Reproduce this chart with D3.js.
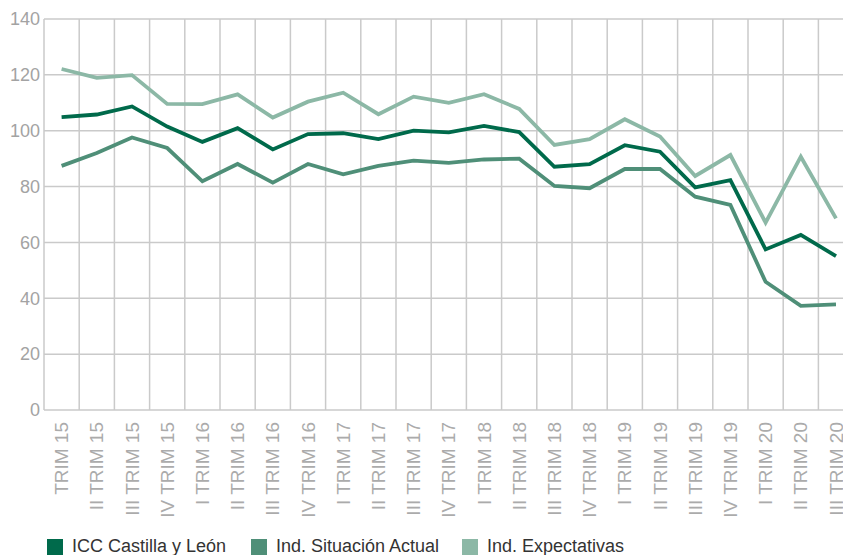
<!DOCTYPE html>
<html>
<head>
<meta charset="utf-8">
<script src="https://cdn.jsdelivr.net/npm/d3@7"></script>
<style>
  body { margin: 0; background: #fff; }
  svg { display: block; font-family: "Liberation Sans", Arial, sans-serif; }
</style>
</head>
<body>
<div id="chart"></div>
<script>
// categories (first label appears as "TRIM 15" in the source)
const categories = [
  "TRIM 15", "II TRIM 15", "III TRIM 15", "IV TRIM 15",
  "I TRIM 16", "II TRIM 16", "III TRIM 16", "IV TRIM 16",
  "I TRIM 17", "II TRIM 17", "III TRIM 17", "IV TRIM 17",
  "I TRIM 18", "II TRIM 18", "III TRIM 18", "IV TRIM 18",
  "I TRIM 19", "II TRIM 19", "III TRIM 19", "IV TRIM 19",
  "I TRIM 20", "II TRIM 20", "III TRIM 20"
];

const icc = [104.9, 105.8, 108.7, 101.5, 96.0, 100.9, 93.3, 98.8, 99.1, 97.0, 100.0, 99.4,
             101.7, 99.5, 87.1, 88.0, 94.8, 92.5, 79.7, 82.3, 57.5, 62.7, 55.1];
const situacion = [87.4, 92.0, 97.6, 93.8, 81.9, 88.1, 81.4, 88.1, 84.4, 87.4, 89.3, 88.5,
                   89.7, 90.0, 80.2, 79.4, 86.3, 86.3, 76.4, 73.4, 45.9, 37.3, 37.8];
const expectativas = [122.1, 118.9, 119.9, 109.6, 109.5, 113.0, 104.7, 110.4, 113.6, 105.9, 112.2, 110.0,
                      113.1, 107.8, 94.9, 97.0, 104.1, 97.9, 83.8, 91.3, 67.1, 90.7, 68.6];

const yTicks = [0, 20, 40, 60, 80, 100, 120, 140];

const seriesNames = ["ICC Castilla y León", "Ind. Situación Actual", "Ind. Expectativas"];
const seriesColors = ["#006a4b", "#4f8f78", "#8cb8a6"];
const seriesValues = [icc, situacion, expectativas];

const width = 843, height = 555;
const margin = { top: 19, left: 44 };
const plotBottom = 410;
const bandW = 35.2;

const svg = d3.select("#chart").append("svg")
  .attr("width", width)
  .attr("height", height);

const x = d3.scaleBand()
  .domain(categories)
  .range([margin.left, margin.left + bandW * categories.length])
  .padding(0);

const y = d3.scaleLinear()
  .domain([0, 140])
  .range([plotBottom, margin.top]);

const grid = svg.append("g").attr("class", "grid");

// horizontal grid lines
grid.selectAll("line.h")
  .data(yTicks)
  .enter().append("line")
  .attr("class", "h")
  .attr("x1", margin.left)
  .attr("x2", x.range()[1])
  .attr("y1", d => y(d))
  .attr("y2", d => y(d))
  .attr("stroke", "#cacaca")
  .attr("stroke-width", 1.5);

// vertical grid lines at band edges
grid.selectAll("line.v")
  .data(categories)
  .enter().append("line")
  .attr("class", "v")
  .attr("x1", d => x(d))
  .attr("x2", d => x(d))
  .attr("y1", y(140))
  .attr("y2", y(0))
  .attr("stroke", "#cacaca")
  .attr("stroke-width", 1.5);

// y axis labels
const yAxis = svg.append("g")
  .attr("transform", `translate(${margin.left},0)`)
  .call(d3.axisLeft(y).tickValues(yTicks).tickSize(0).tickPadding(4));
yAxis.select(".domain").remove();
yAxis.selectAll("text")
  .attr("fill", "#a3a3a3")
  .style("font-size", "18px");

// x axis labels (rotated)
const xAxis = svg.append("g")
  .attr("transform", `translate(0,${plotBottom})`)
  .call(d3.axisBottom(x).tickSize(0));
xAxis.select(".domain").remove();
xAxis.selectAll("text")
  .attr("fill", "#ababab")
  .style("font-size", "19px")
  .attr("text-anchor", "end")
  .attr("transform", "rotate(-90)")
  .attr("x", -12)
  .attr("y", 0)
  .attr("dy", "0.35em");

// lines
const line = d3.line()
  .x((d, i) => x(categories[i]) + x.bandwidth() / 2)
  .y(d => y(d));

svg.append("g").selectAll("path")
  .data(seriesValues.map((v, i) => ({ values: v, color: seriesColors[i] })).reverse())
  .enter().append("path")
  .attr("d", d => line(d.values))
  .attr("fill", "none")
  .attr("stroke", d => d.color)
  .attr("stroke-width", 3.8)
  .attr("stroke-linejoin", "miter");

// legend
const legendX = [47, 251, 462];
const legend = svg.append("g").selectAll("g")
  .data(seriesNames)
  .enter().append("g")
  .attr("transform", (d, i) => `translate(${legendX[i]},539)`);

legend.append("rect")
  .attr("width", 16)
  .attr("height", 16)
  .attr("fill", (d, i) => seriesColors[i]);

legend.append("text")
  .attr("x", 25)
  .attr("y", 13)
  .attr("fill", "#333")
  .style("font-size", "18px")
  .text(d => d);
</script>
</body>
</html>
